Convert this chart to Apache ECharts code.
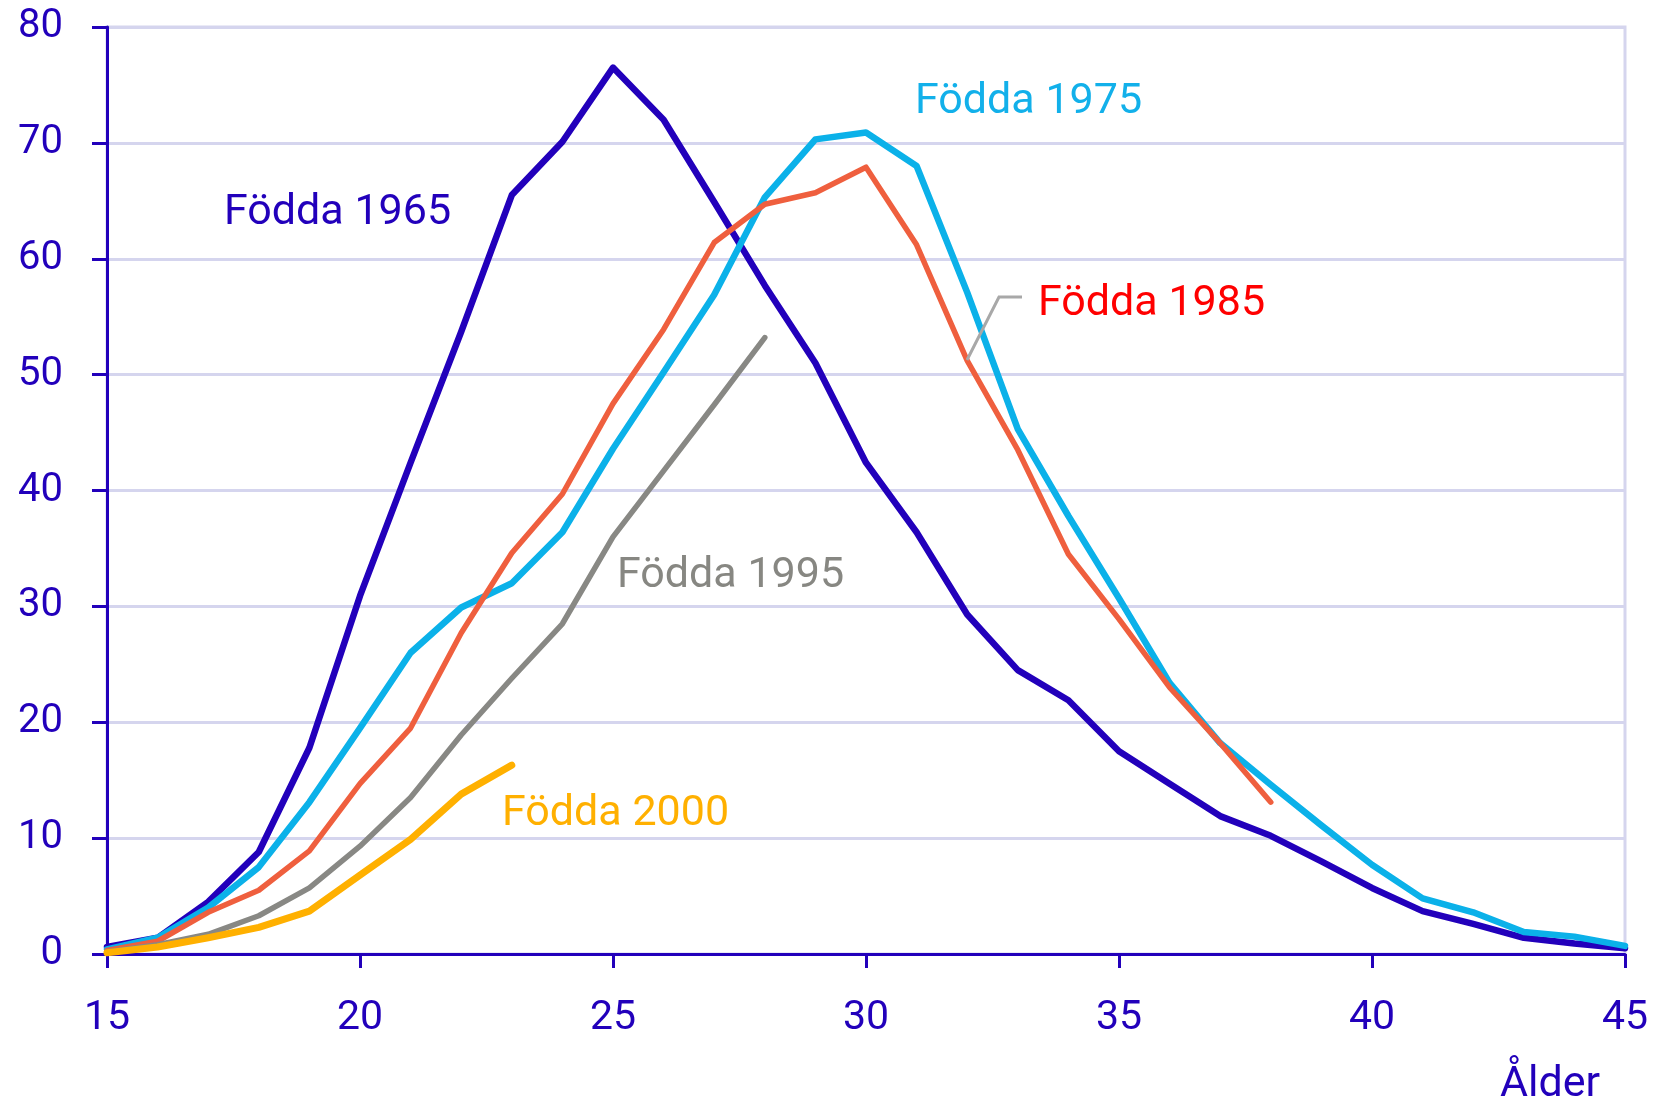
<!DOCTYPE html>
<html>
<head>
<meta charset="utf-8">
<script src="https://cdn.jsdelivr.net/npm/echarts@6/dist/echarts.min.js"></script>
<style>
  html, body { margin: 0; padding: 0; background: #fff; }
  #chart { width: 1658px; height: 1102px; }
</style>
</head>
<body>
<div id="chart"></div>
<script>
// Fruktsamhet per ålder, kohorter (födda år)
const ages = [15,16,17,18,19,20,21,22,23,24,25,26,27,28,29,30,31,32,33,34,35,36,37,38,39,40,41,42,43,44,45]

const born1965 = [0.6,1.4,4.5,8.8,17.8,30.9,42.4,53.7,65.5,70.1,76.5,72.0,64.9,57.7,51.0,42.4,36.4,29.3,24.5,21.9,17.5,14.7,11.9,10.2,8.0,5.7,3.7,2.6,1.4,0.9,0.5]
const born1975 = [0.4,1.4,4.0,7.5,13.1,19.5,26.0,29.9,32.0,36.4,43.6,50.2,56.9,65.3,70.3,70.9,68.0,57.1,45.3,37.8,30.7,23.4,18.2,14.6,11.1,7.7,4.8,3.6,1.9,1.5,0.7]
const born1985 = [0.3,1.1,3.6,5.5,8.9,14.7,19.5,27.7,34.6,39.7,47.5,53.9,61.4,64.7,65.7,67.9,61.2,51.2,43.5,34.5,28.9,23.0,18.2,13.1]
const born1995 = [0.2,0.8,1.7,3.3,5.7,9.3,13.5,18.9,23.8,28.5,36.0,41.7,47.4,53.2]
const born2000 = [0.1,0.6,1.4,2.3,3.7,6.8,9.9,13.8,16.3]

const navy = '#2200BB'
const grid = '#D5D5EE'
const font = 'Roboto'

const pairs = vals => vals.map((v, i) => [ages[i], v])

const line = (name, vals, color, width) => ({
  name,
  type: 'line',
  data: pairs(vals),
  showSymbol: false,
  lineStyle: { color, width, cap: 'round', join: 'round' },
  emphasis: { disabled: true }
})

// x = left edge of text, y = vertical middle
const label = (text, x, y, color) => ({
  type: 'text', x, y, z: 100,
  style: { text, fill: color, font: `43px ${font}`, align: 'left', verticalAlign: 'middle' }
})

const chart = echarts.init(document.getElementById('chart'))
chart.setOption({
  animation: false,
  grid: {
    left: 107, right: 33, top: 27, bottom: 148,
    show: true, borderColor: grid, borderWidth: 3, backgroundColor: 'transparent'
  },
  xAxis: {
    type: 'value', min: 15, max: 45, interval: 5,
    axisLine: { lineStyle: { color: navy, width: 3 } },
    axisTick: { show: true, length: 14, lineStyle: { color: navy, width: 3 } },
    axisLabel: { color: navy, fontFamily: font, fontSize: 41, margin: 44 },
    splitLine: { show: false }
  },
  yAxis: {
    type: 'value', min: 0, max: 80, interval: 10,
    axisLine: { show: true, lineStyle: { color: navy, width: 3 } },
    axisTick: { show: true, length: 15, lineStyle: { color: navy, width: 3 } },
    axisLabel: { color: navy, fontFamily: font, fontSize: 40, margin: 44 },
    splitLine: { lineStyle: { color: grid, width: 3 } }
  },
  series: [
    line('Födda 1965', born1965, '#2200BB', 6.5),
    line('Födda 1975', born1975, '#0BB1E9', 6.5),
    line('Födda 1985', born1985, '#EF5F3E', 5.5),
    line('Födda 1995', born1995, '#888884', 5.5),
    line('Födda 2000', born2000, '#FFB000', 7)
  ],
  graphic: [
    label('Födda 1965', 224, 213, '#2200BB'),
    label('Födda 1975', 915, 102, '#12B0EA'),
    label('Födda 1985', 1038, 304, '#FF0000'),
    label('Födda 1995', 617, 576, '#878782'),
    label('Födda 2000', 502, 814, '#FFB000'),
    {
      type: 'polyline', z: 99,
      shape: { points: [[1022, 297], [999, 297], [967, 360]] },
      style: { stroke: '#A8A8A8', lineWidth: 3, fill: null }
    },
    label('Ålder', 1500, 1085, navy)
  ]
})
</script>
</body>
</html>
